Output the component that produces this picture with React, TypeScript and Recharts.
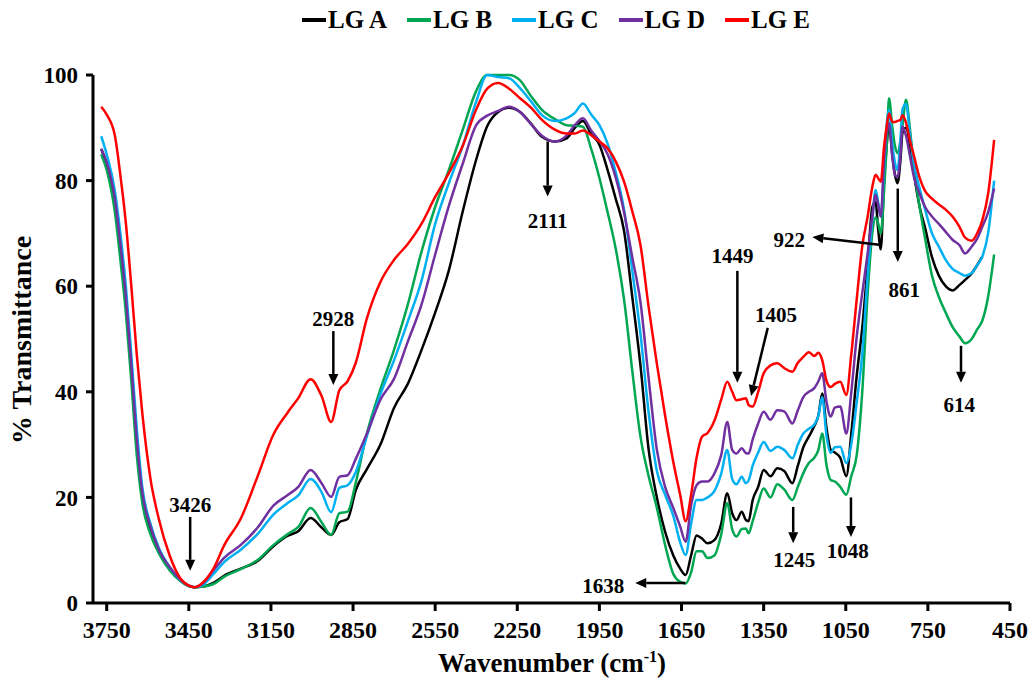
import React from 'react';
import { LineChart, Line, XAxis, YAxis, ReferenceLine, ReferenceDot } from 'recharts';

// wavenumber grid (cm-1), shared by all five spectra
const wavenumbers = [
  3770, 3750, 3720, 3700, 3680, 3660, 3640, 3620, 3590, 3560,
  3520, 3480, 3450, 3430, 3400, 3360, 3320, 3260, 3200, 3140,
  3090, 3050, 3005, 2965, 2930, 2900, 2870, 2840, 2800, 2750,
  2700, 2650, 2600, 2550, 2500, 2450, 2400, 2360, 2320, 2280,
  2240, 2200, 2160, 2111, 2070, 2040, 2010, 1980, 1950, 1920,
  1890, 1860, 1830, 1800, 1770, 1740, 1710, 1680, 1655, 1635,
  1615, 1595, 1575, 1555, 1530, 1505, 1483, 1465, 1449, 1430,
  1415, 1405, 1390, 1370, 1350, 1325, 1300, 1275, 1245, 1225,
  1205, 1185, 1165, 1150, 1136, 1120, 1105, 1090, 1070, 1048,
  1030, 1010, 990, 970, 953, 941, 932, 922, 910, 900,
  892, 880, 870, 861, 850, 843, 830, 815, 800, 780,
  760, 735, 710, 685, 660, 635, 614, 590, 570, 551,
  530, 508,
];

const lgA = [
  86, 83, 76, 67, 57, 44, 30, 20, 13.8, 10,
  6.5, 4.2, 3.2, 3.0, 3.1, 3.8, 5.2, 6.5, 7.9, 10.8,
  12.7, 13.6, 16.1, 14.3, 12.9, 15.3, 15.9, 21.4, 25.3, 30,
  37, 41.5, 47.9, 55, 63, 74, 84, 90.3, 93, 93.8,
  93, 90.8, 88.3, 87.4, 88, 90, 91.3, 88.8, 86.8, 82,
  76.5, 70.5, 58, 45, 29, 20, 13.5, 9, 6.5, 5.3,
  9, 12.8, 12.2, 11.3, 11.9, 15, 20.8, 17, 15.7, 17.3,
  15.7, 15.5, 19.5, 22, 25.2, 24, 25.5, 25, 22.7, 26,
  29.5, 31.5, 33.5, 35.5, 39.7, 33, 29, 28.5, 27.5, 24,
  32, 43, 52, 64, 75, 76, 71, 67, 80, 87,
  90.8, 85, 81, 79.5, 84, 89, 90, 86.5, 81, 75,
  71, 65.5, 62, 60, 59.2, 60.2, 61.2, 62.4, 64, 65.6,
  null, null,
];

const lgB = [
  85, 82, 74, 65, 55, 42, 28, 19, 13, 9.5,
  6.2, 4.1, 3.2, 3.0, 3.1, 3.6, 5, 6.4, 8.1, 11,
  13, 14.4, 18, 15.3, 12.9, 17, 17.3, 22.8, 32, 40.5,
  48, 56.5, 66.5, 75, 82, 89.5, 97, 100, 100, 100,
  99, 96, 93.4, 91.6, 90.5, 90.4, 90.2, 86, 80.5, 74,
  67, 57.5, 44, 31.5, 24, 18, 11, 5.5, 4, 3.7,
  5.8, 9.8, 9.8, 8.5, 9, 13, 18.9, 14, 12.6, 14,
  14.1, 13.2, 15.5, 19, 21.7, 20, 22.5, 21.5, 19.5, 22,
  24.6, 26.5, 27.5, 29, 32.1, 26, 23.3, 23, 22, 20.5,
  24, 28, 39.8, 58.6, 70, 73, 72, 70, 78, 87,
  95.6, 90.2, 86.5, 85.2, 87.5, 90.2, 95.3, 89.5, 82, 75,
  69, 62, 58, 55, 52.3, 50.5, 49.2, 50, 51.8, 53.5,
  58, 66,
];

const lgC = [
  88.4, 85, 78, 70, 60, 47, 33, 22, 15, 10.5,
  6.8, 4.3, 3.3, 3.0, 3.4, 5.5, 7.8, 10.1, 13, 16.8,
  18.9, 20.4, 23.5, 21, 17.2, 21.8, 22.3, 24.8, 31.5, 39.5,
  46, 53.3, 61, 71.8, 79.5, 86.5, 95, 100, 99.6, 99.4,
  97.5, 95, 92.4, 91.3, 91.8, 92.8, 94.6, 92.5, 90.5, 87,
  81.5, 74.5, 63, 51, 36, 25, 20.5, 16.5, 11.5, 9.1,
  15, 19.5, 19.5, 20, 21.2, 24.5, 29, 23.5, 22.5, 23.9,
  22.7, 23.2, 26, 28.5, 30.5, 28.8, 29.6, 29, 27.4, 30,
  32.1, 33, 33.8, 35.5, 39, 31.5, 28.4, 29.5, 29.6, 26.5,
  30, 38, 47, 62, 72.5, 78.2, 76, 73.2, 82.5, 91,
  93.4, 87, 83.3, 82, 88, 93.5, 94.5, 88.5, 83, 78.5,
  74.5, 70, 67.5, 65, 63.3, 62.5, 62, 62.5, 64, 65.6,
  70, 80,
];

const lgD = [
  86, 83.5, 76.5, 68, 58, 45, 31, 21, 14.5, 10.2,
  6.8, 4.4, 3.3, 3.0, 3.7, 6.2, 8.6, 11, 14.2, 18.5,
  20.4, 22, 25.2, 22.7, 20.1, 23.9, 24.2, 27.3, 32, 38.5,
  42.5, 49.5, 56.5, 66, 75.2, 83.1, 90.5, 92.3, 93.2, 94,
  93, 90.7, 88.5, 87.4, 88.5, 90.5, 91.8, 89.5, 87.5, 85,
  80.5, 74, 65.5, 57, 42.5, 29, 22, 18, 14.5, 11.6,
  18.5, 22.3, 23, 23, 24.5, 28, 34.3, 29, 28.3, 29.3,
  28.4, 28.3, 31, 34, 36.2, 34.7, 36.5, 36.3, 34, 36.5,
  39, 40, 40.7, 42, 43.5, 38, 35.3, 37, 37.2, 32.1,
  39.8, 50.4, 58.6, 66.2, 73.2, 77.3, 75.5, 73.2, 84, 89.5,
  90.8, 84.5, 81, 80.7, 85, 90.2, 88.5, 84.5, 80.5, 77.5,
  75, 73.2, 71.8, 70.3, 68.8, 67.8, 66.2, 67.5, 69, 71.3,
  74, 78.5,
];

const lgE = [
  94, 92.5, 88.5, 81, 72, 60, 47, 36, 23.5, 16,
  9, 4.6, 3.3, 3.0, 3.8, 6.5, 11, 16, 23.8, 32,
  36, 38.8, 42.4, 39.2, 34.3, 40.3, 42, 45.5, 53.8, 60.8,
  65, 68, 71.8, 76.9, 81.4, 86.5, 93.5, 97.4, 98.5, 97.4,
  95.6, 93.8, 91.5, 89.6, 88.9, 88.9, 89.5, 88.6, 87.4, 86.1,
  83.6, 79.8, 74.2, 67.8, 56, 45.3, 35.5, 26.7, 20.5, 15.5,
  20.5, 27.5, 31.5, 32.2, 34.5, 38.5, 41.9, 40, 38.4, 38.6,
  38.8, 37.5, 37.2, 40, 43.5, 45, 45.4, 44.5, 43.8, 45.5,
  46.6, 47.5, 46.8, 47.4, 46, 42, 40.9, 41.5, 41.9, 39.4,
  47, 57.5, 67.5, 73.2, 78.8, 81.1, 80.5, 79.8, 86.5, 90.5,
  92.7, 91.1, 91.1, 91.3, 91.5, 92.4, 91, 87.5, 84.5, 80.5,
  78, 76.6, 75.5, 74.5, 73.2, 71.3, 69.2, 68.6, 70, 72.5,
  77.5, 87.7,
];

const xTicks = [3750, 3450, 3150, 2850, 2550, 2250, 1950, 1650, 1350, 1050, 750, 450];
const yTicks = [0, 20, 40, 60, 80, 100];

const seriesNames = ['LG A', 'LG B', 'LG C', 'LG D', 'LG E'];
const seriesKeys = ['lgA', 'lgB', 'lgC', 'lgD', 'lgE'];
const seriesColors = ['#000000', '#00A651', '#00B0F0', '#7030A0', '#FF0000'];

// peak labels: text position and arrow (from -> to), in wavenumber / %T
const peakLabels = ['3426', '2928', '2111', '1638', '1449', '1405', '922', '861', '1245', '1048', '614'];
const labelPos = [
  [3445, 18.6], [2922, 53.8], [2139, 72.3], [1936, 3.2], [1464, 65.7], [1305, 54.5],
  [1256, 68.8], [836, 59.3], [1238, 8.1], [1043, 9.8], [635, 37.5],
];
const arrowFrom = [
  [3445, 16.3], [2922, 51.5], [2139, 87.4], [1636, 3.8], [1446, 62.9], [1335, 52.1],
  [920, 67.8], [860, 78.5], [1242, 18.2], [1031, 20], [629, 48.7],
];
const arrowTo = [
  [3445, 6.1], [2922, 41.3], [2139, 77], [1819, 3.8], [1446, 41.7], [1396, 39.2],
  [1172, 69.3], [860, 64.6], [1242, 11.3], [1031, 12.5], [629, 41.7],
];

const serif = '"Liberation Serif", "Times New Roman", serif';

const chartData = wavenumbers.map((wn, i) => ({
  wn,
  lgA: lgA[i],
  lgB: lgB[i],
  lgC: lgC[i],
  lgD: lgD[i],
  lgE: lgE[i],
}));

const Arrow = (props: any) => {
  const { x1, y1, x2, y2 } = props;
  const dx = x2 - x1;
  const dy = y2 - y1;
  const len = Math.hypot(dx, dy) || 1;
  const ux = dx / len;
  const uy = dy / len;
  const headLen = 11;
  const headW = 5;
  const bx = x2 - ux * headLen;
  const by = y2 - uy * headLen;
  return (
    <g>
      <line x1={x1} y1={y1} x2={bx} y2={by} stroke="#000" strokeWidth={2.5} />
      <polygon
        points={`${x2},${y2} ${bx - uy * headW},${by + ux * headW} ${bx + uy * headW},${by - ux * headW}`}
        fill="#000"
      />
    </g>
  );
};

export default function App() {
  return (
    <div style={{ position: 'absolute', left: 0, top: 0, width: 1033, height: 686, background: '#fff' }}>
      {/* legend */}
      <div style={{ position: 'absolute', top: 5, left: 302, height: 30, display: 'flex', alignItems: 'center', gap: 20 }}>
        {seriesNames.map((name, i) => (
          <div key={name} style={{ display: 'flex', alignItems: 'center' }}>
            <span style={{ display: 'inline-block', width: 24, height: 4, background: seriesColors[i], marginRight: 2 }} />
            <span style={{ fontFamily: serif, fontWeight: 700, fontSize: 25, color: '#000' }}>{name}</span>
          </div>
        ))}
      </div>

      <LineChart
        width={1033}
        height={686}
        data={chartData}
        margin={{ top: 75, right: 23, bottom: 0, left: 43 }}
      >
        <XAxis
          type="number"
          dataKey="wn"
          domain={[450, 3800]}
          reversed
          ticks={xTicks}
          interval={0}
          height={83}
          tickSize={8}
          tickMargin={10}
          axisLine={{ stroke: '#000', strokeWidth: 3 }}
          tickLine={{ stroke: '#000', strokeWidth: 3 }}
          tick={{ fill: '#000', fontSize: 24, fontWeight: 700, fontFamily: serif }}
        />
        <YAxis
          type="number"
          domain={[0, 100]}
          ticks={yTicks}
          interval={0}
          width={50}
          tickSize={7}
          tickMargin={8}
          axisLine={{ stroke: '#000', strokeWidth: 3 }}
          tickLine={{ stroke: '#000', strokeWidth: 3 }}
          tick={{ fill: '#000', fontSize: 23, fontWeight: 700, fontFamily: serif }}
        />
        {seriesKeys.map((key, i) => (
          <Line
            key={key}
            type="monotone"
            dataKey={key}
            name={seriesNames[i]}
            stroke={seriesColors[i]}
            strokeWidth={2.5}
            dot={false}
            activeDot={false}
            isAnimationActive={false}
          />
        ))}
        {peakLabels.map((label, i) => (
          <ReferenceLine
            key={'arrow-' + label}
            segment={[
              { x: arrowFrom[i][0], y: arrowFrom[i][1] },
              { x: arrowTo[i][0], y: arrowTo[i][1] },
            ]}
            shape={Arrow}
          />
        ))}
        {peakLabels.map((label, i) => (
          <ReferenceDot
            key={'label-' + label}
            x={labelPos[i][0]}
            y={labelPos[i][1]}
            r={0}
            shape={(p: any) => (
              <text
                x={p.cx}
                y={p.cy}
                textAnchor="middle"
                dominantBaseline="central"
                fontFamily={serif}
                fontWeight={700}
                fontSize={21}
                fill="#000"
              >
                {label}
              </text>
            )}
          />
        ))}
      </LineChart>

      {/* axis titles */}
      <div
        style={{
          position: 'absolute', left: 552, top: 663, transform: 'translate(-50%, -50%)',
          fontFamily: serif, fontWeight: 700, fontSize: 27, whiteSpace: 'nowrap', lineHeight: 1, color: '#000',
        }}
      >
        Wavenumber (cm<sup style={{ fontSize: '0.6em', lineHeight: 0 }}>-1</sup>)
      </div>
      <div
        style={{
          position: 'absolute', left: 22, top: 340, transform: 'translate(-50%, -50%) rotate(-90deg)',
          fontFamily: serif, fontWeight: 700, fontSize: 28, whiteSpace: 'nowrap', lineHeight: 1, color: '#000',
        }}
      >
        % Transmittance
      </div>
    </div>
  );
}
